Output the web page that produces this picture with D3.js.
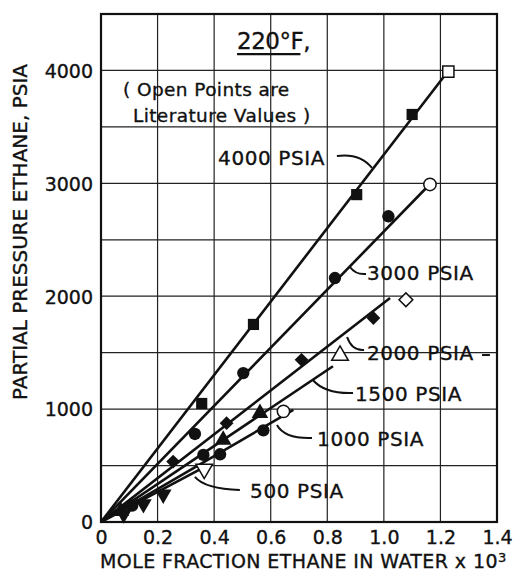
<!DOCTYPE html>
<html>
<head>
<meta charset="utf-8">
<script src="https://cdn.jsdelivr.net/npm/d3@7"></script>
<style>
  body { margin: 0; background: #fff; }
  text { font-family: "DejaVu Sans", sans-serif; fill: #111; stroke: #111; stroke-width: 0.35px; }
</style>
</head>
<body>
<div id="chart"></div>
<script>
// Chart data
// =================================
const xTicks = [0, 0.2, 0.4, 0.6, 0.8, 1.0, 1.2, 1.4];
const yTicks = [0, 1000, 2000, 3000, 4000];
const xGrid = [0.2, 0.4, 0.6, 0.8, 1.0, 1.2];
const yGrid = [500, 1000, 1500, 2000, 2500, 3000, 3500, 4000];

const seriesNames = ["4000 PSIA", "3000 PSIA", "2000 PSIA", "1500 PSIA", "1000 PSIA", "500 PSIA"];
const seriesSymbols = ["square", "circle", "diamond", "triangle", "circle", "triangleDown"];

// fitted lines run from the origin to these points
const lineEnds = [[1.22, 3970], [1.16, 2985], [1.022, 1985], [0.82, 1380], [0.68, 993], [0.36, 480]];

// measured (filled) points
const filledPoints = [
  [[0.356, 1050], [0.539, 1750], [0.904, 2900], [1.10, 3610]],
  [[0.332, 780], [0.503, 1319], [0.827, 2161], [1.016, 2708]],
  [[0.255, 535], [0.444, 875], [0.709, 1437], [0.963, 1807]],
  [[0.07, 95], [0.432, 727], [0.562, 964]],
  [[0.11, 145], [0.362, 594], [0.421, 600], [0.574, 812]],
  [[0.08, 70], [0.15, 160], [0.22, 245]]
];

// literature (open) points
const openPoints = [[1.228, 3990], [1.163, 2990], [1.078, 1969], [0.845, 1475], [0.645, 980], [0.365, 470]];

// Set up chart
// =================================
const svgWidth = 514;
const svgHeight = 573;

const svg = d3.select("#chart")
  .append("svg")
  .attr("width", svgWidth)
  .attr("height", svgHeight);

const xScale = d3.scaleLinear().domain([0, 1.4]).range([101, 497]);
const yScale = d3.scaleLinear().domain([0, 4500]).range([522, 14]);

// Grid
// =================================
svg.append("g")
  .selectAll("line")
  .data(xGrid)
  .enter()
  .append("line")
  .attr("x1", d => xScale(d))
  .attr("x2", d => xScale(d))
  .attr("y1", yScale(0))
  .attr("y2", yScale(4500))
  .attr("stroke", "#222")
  .attr("stroke-width", 1.2);

svg.append("g")
  .selectAll("line")
  .data(yGrid)
  .enter()
  .append("line")
  .attr("x1", xScale(0))
  .attr("x2", xScale(1.4))
  .attr("y1", d => yScale(d))
  .attr("y2", d => yScale(d))
  .attr("stroke", "#222")
  .attr("stroke-width", 1.2);

svg.append("rect")
  .attr("x", xScale(0))
  .attr("y", yScale(4500))
  .attr("width", xScale(1.4) - xScale(0))
  .attr("height", yScale(0) - yScale(4500))
  .attr("fill", "none")
  .attr("stroke", "#111")
  .attr("stroke-width", 2.2);

// Axes (labels only)
// =================================
const bottomAxis = d3.axisBottom(xScale)
  .tickValues(xTicks)
  .tickSize(0)
  .tickPadding(9)
  .tickFormat(d => d === 0 ? "0" : d3.format(".1f")(d));

const leftAxis = d3.axisLeft(yScale)
  .tickValues(yTicks)
  .tickSize(0)
  .tickPadding(8)
  .tickFormat(d3.format("d"));

const xAxisG = svg.append("g")
  .attr("transform", `translate(0, ${yScale(0)})`)
  .call(bottomAxis);

const yAxisG = svg.append("g")
  .attr("transform", `translate(${xScale(0)}, 0)`)
  .call(leftAxis);

[xAxisG, yAxisG].forEach(g => {
  g.select(".domain").remove();
  g.selectAll("text")
    .style("font-family", "DejaVu Sans, sans-serif")
    .style("font-size", "19px")
    .attr("fill", "#111");
});
yAxisG.selectAll("text").attr("dy", "0.36em");

// Axis titles
svg.append("text")
  .attr("transform", `translate(27, ${(yScale(0) + yScale(4500)) / 2 - 36}) rotate(-90)`)
  .attr("text-anchor", "middle")
  .style("font-size", "20px")
  .text("PARTIAL PRESSURE ETHANE, PSIA");

const xTitle = svg.append("text")
  .attr("x", 100)
  .attr("y", 568)
  .style("font-size", "19px")
  .style("letter-spacing", "0.4px")
  .text("MOLE FRACTION ETHANE IN WATER x 10");
xTitle.append("tspan")
  .attr("dy", -6)
  .style("font-size", "13px")
  .text("3");

// Fitted lines
// =================================
svg.append("g")
  .selectAll("line")
  .data(lineEnds)
  .enter()
  .append("line")
  .attr("x1", xScale(0))
  .attr("y1", yScale(0))
  .attr("x2", d => xScale(d[0]))
  .attr("y2", d => yScale(d[1]))
  .attr("stroke", "#111")
  .attr("stroke-width", 2.6);

// Points
// =================================
function symbolPath(name) {
  if (name === "circle") return d3.symbol(d3.symbolCircle, 120)();
  if (name === "square") return d3.symbol(d3.symbolSquare, 125)();
  if (name === "diamond") return d3.symbol(d3.symbolSquare, 95)();
  return d3.symbol(d3.symbolTriangle, 120)();
}
function symbolRotate(name) {
  if (name === "diamond") return 45;
  if (name === "triangleDown") return 180;
  return 0;
}

seriesNames.forEach((name, i) => {
  const sym = seriesSymbols[i];
  svg.append("g")
    .selectAll("path")
    .data(filledPoints[i])
    .enter()
    .append("path")
    .attr("d", symbolPath(sym))
    .attr("transform", d => `translate(${xScale(d[0])}, ${yScale(d[1])}) rotate(${symbolRotate(sym)})`)
    .attr("fill", "#111");

  svg.append("path")
    .datum(openPoints[i])
    .attr("d", symbolPath(sym))
    .attr("transform", d => `translate(${xScale(d[0])}, ${yScale(d[1])}) rotate(${symbolRotate(sym)})`)
    .attr("fill", "#fff")
    .attr("stroke", "#111")
    .attr("stroke-width", 1.5);
});

// Series labels with leaders
// =================================
const labelPos = [
  { at: [0.414, 3162], lead: [[0.834, 3242], [0.916, 3269], [0.958, 3136]] },
  { at: [0.940, 2144], lead: [[0.937, 2197], [0.901, 2188], [0.880, 2259]] },
  { at: [0.940, 1435], lead: [[0.930, 1524], [0.887, 1515], [0.870, 1639]] },
  { at: [0.898, 1072], lead: [[0.891, 1143], [0.792, 1134], [0.749, 1258]] },
  { at: [0.764, 673], lead: [[0.746, 744], [0.650, 735], [0.622, 859]] },
  { at: [0.527, 213], lead: [[0.491, 283], [0.368, 292], [0.332, 399]] }
];

labelPos.forEach((p, i) => {
  svg.append("text")
    .attr("x", xScale(p.at[0]))
    .attr("y", yScale(p.at[1]))
    .style("font-size", "20px")
    .style("letter-spacing", "0.6px")
    .text(seriesNames[i]);

  const [a, c, b] = p.lead;
  svg.append("path")
    .attr("d", `M${xScale(a[0])},${yScale(a[1])} Q${xScale(c[0])},${yScale(c[1])} ${xScale(b[0])},${yScale(b[1])}`)
    .attr("fill", "none")
    .attr("stroke", "#111")
    .attr("stroke-width", 2);
});

// dash after 2000 PSIA
svg.append("line")
  .attr("x1", xScale(1.347))
  .attr("x2", xScale(1.375))
  .attr("y1", yScale(1479))
  .attr("y2", yScale(1479))
  .attr("stroke", "#111")
  .attr("stroke-width", 2);

// Title and note
// =================================
svg.append("text")
  .attr("x", xScale(0.481))
  .attr("y", yScale(4190))
  .style("font-size", "23px")
  .style("letter-spacing", "-0.5px")
  .text("220°F,");

svg.append("line")
  .attr("x1", xScale(0.481))
  .attr("x2", xScale(0.705))
  .attr("y1", yScale(4145))
  .attr("y2", yScale(4145))
  .attr("stroke", "#111")
  .attr("stroke-width", 2.2);

svg.append("text")
  .attr("x", xScale(0.078))
  .attr("y", yScale(3774))
  .style("font-size", "18.5px")
  .style("letter-spacing", "0.4px")
  .text("( Open Points are");

svg.append("text")
  .attr("x", xScale(0.113))
  .attr("y", yScale(3543))
  .style("font-size", "18.5px")
  .style("letter-spacing", "0.4px")
  .text("Literature Values )");
</script>
</body>
</html>
